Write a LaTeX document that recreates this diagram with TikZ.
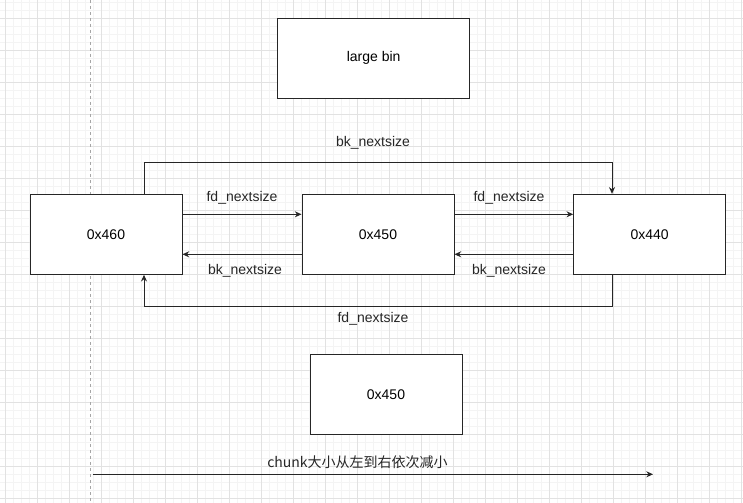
\documentclass[tikz,border=0pt]{standalone}
\usepackage{fontspec}
\setmainfont{Liberation Sans}
\newfontfamily\cjk{Noto Sans CJK SC}
\usetikzlibrary{arrows.meta}
\definecolor{minorgrid}{HTML}{F4F4F4}
\definecolor{majorgrid}{HTML}{E2E2E2}
\definecolor{ink}{HTML}{262626}
\tikzset{
    chunk/.style={draw=ink, fill=white, line width=0.75pt, inner sep=0pt,
        minimum width=114pt, minimum height=60pt},
    link/.style={draw=ink, line width=0.75pt, -{Stealth[length=5pt, width=4.5pt]}},
    lbl/.style={text=ink, inner sep=0pt},
}

\begin{document}
\begin{tikzpicture}
    [x=0.75pt, y=-0.75pt, font=\fontsize{10.5}{12}\selectfont]
    \useasboundingbox[fill=white] (0,0) rectangle (743,503);
    \clip (0,0) rectangle (743,503);
    % background grid
    \begin{scope}[shift={(5.3,18.3)}]
        \draw[minorgrid, line width=0.6pt, step=6pt] (-16,-32) grid (745,492);
        \draw[majorgrid, line width=0.75pt, step=24pt] (-16,-32) grid (745,492);
    \end{scope}
    \draw[gray!70, line width=0.6pt, dash pattern=on 2.25pt off 2.25pt] (90.3,0) -- (90.3,503);

    % chunks
    \node[chunk, minimum width=144pt] (bin) at (373.7,58.3) {large bin};
    \node[chunk] (c460) at (106,234.3) {0x460};
    \node[chunk] (c450) at (378,234.3) {0x450};
    \node[chunk] (c440) at (649.7,234.3) {0x440};
    \node[chunk] (c450b) at (386,394.3) {0x450};

    % fd / bk between neighbours
    \coordinate (fdrow) at (0,214.3);
    \coordinate (bkrow) at (0,254.3);
    \draw[link] (c460.east |- fdrow) -- (c450.west |- fdrow);
    \draw[link] (c450.west |- bkrow) -- (c460.east |- bkrow);
    \draw[link] (c450.east |- fdrow) -- (c440.west |- fdrow);
    \draw[link] (c440.west |- bkrow) -- (c450.east |- bkrow);
    \node[lbl] (fd1) at (242,198) {fd\_nextsize};
    \node[lbl] (bk1) at (245,270.5) {bk\_nextsize};
    \node[lbl] (fd2) at (509,198) {fd\_nextsize};
    \node[lbl] (bk2) at (509,270.5) {bk\_nextsize};

    % outer loops
    \coordinate (topl) at (144,162.3);
    \coordinate (topr) at (612,162.3);
    \coordinate (botl) at (144,306.3);
    \coordinate (botr) at (612,306.3);
    \draw[link] (topl |- c460.north) -- (topl) -- (topr) -- (topr |- c440.north);
    \draw[link] (botr |- c440.south) -- (botr) -- (botl) -- (botl |- c460.south);
    \node[lbl] (bktop) at (373,142.5) {bk\_nextsize};
    \node[lbl] (fdbot) at (373,318.5) {fd\_nextsize};

    % size order
    \coordinate (from) at (93,474.3);
    \coordinate (to) at (653,474.3);
    \draw[link] (from) -- (to);
    \node[lbl] (order) at (357.5,462.5) {\cjk chunk大小从左到右依次减小};
\end{tikzpicture}
\end{document}
